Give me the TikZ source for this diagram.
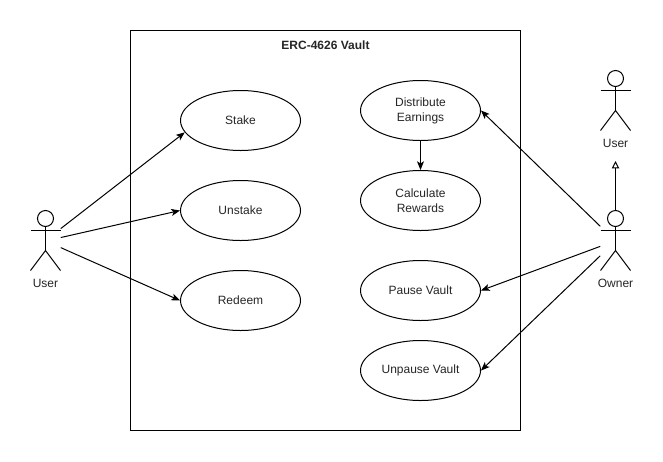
\documentclass[tikz,border=0pt]{standalone}
\usepackage{fontspec}
\setmainfont{Liberation Sans}
\usetikzlibrary{arrows.meta,shapes.geometric,calc}
\tikzset{
  usecase/.style={ellipse,draw=black,line width=0.75pt,fill=white,minimum width=90pt,minimum height=45pt,inner sep=0pt,font=\fontsize{9}{11.25}\selectfont,align=center,text=black!85},
  actorbox/.style={rectangle,inner sep=0pt,minimum width=22.5pt,minimum height=45pt},
  actorlabel/.style={inner sep=0pt,font=\fontsize{9}{11}\selectfont,text=black!85},
  actorline/.style={line width=0.75pt,draw=black},
  assoc/.style={line width=0.75pt,draw=black,-{Stealth[length=6.5pt,width=5.2pt,inset=1.6pt]}},
  inherit/.style={line width=0.75pt,draw=black,-{Triangle[open,length=5.5pt,width=5.5pt]}},
  flowbox/.style={rectangle,draw=black,line width=0.75pt,minimum width=292.5pt,minimum height=300pt,inner sep=0pt},
}
\newcommand{\stickman}[1]{%
  \draw[actorline] ($(#1.center)+(0,-22)$) circle (6pt);
  \draw[actorline] ($(#1.center)+(0,-14)$) -- ($(#1.center)+(0,10)$);
  \draw[actorline] ($(#1.center)+(-15,-10)$) -- ($(#1.center)+(15,-10)$);
  \draw[actorline] ($(#1.center)+(-15,30)$) -- ($(#1.center)+(0,10)$) -- ($(#1.center)+(15,30)$);
}
\begin{document}
\begin{tikzpicture}[x=0.75pt,y=-0.75pt]
\useasboundingbox[fill=white] (0,0) rectangle (663,461);
\node[flowbox] (vault) at (325.5,230.5) {};
\node[inner sep=0pt,font=\bfseries\fontsize{9}{11}\selectfont,text=black!85] (title) at (325.5,45) {ERC-4626 Vault};
\node[usecase] (stake) at (240.5,120.5) {Stake};
\node[usecase] (unstake) at (240.5,210.5) {Unstake};
\node[usecase] (redeem) at (240.5,300.5) {Redeem};
\node[usecase] (dist) at (420.5,110.5) {Distribute\\Earnings};
\node[usecase] (calc) at (420.5,200.5) {Calculate\\Rewards};
\node[usecase] (pause) at (420.5,290.5) {Pause Vault};
\node[usecase] (unpause) at (420.5,370.5) {Unpause Vault};
\node[actorbox] (useractor) at (45.5,240.5) {};
\node[actorbox] (parentactor) at (615.5,100.5) {};
\node[actorbox] (owneractor) at (615.5,240.5) {};
\stickman{useractor}
\stickman{parentactor}
\stickman{owneractor}
\node[actorlabel] (userlabel) at (45.5,283.5) {User};
\node[actorlabel] (parentlabel) at (615.5,143.5) {User};
\node[actorlabel] (ownerlabel) at (615.5,283.5) {Owner};
\draw[assoc] (useractor.38.7) -- (stake.192);
\draw[assoc] (useractor.11.3) -- (unstake.west);
\draw[assoc] (useractor.-25) -- (redeem.west);
\draw[assoc] (owneractor.137) -- (dist.east);
\draw[assoc] (owneractor.201.8) -- (pause.east);
\draw[assoc] (owneractor.225) -- (unpause.east);
\draw[assoc] (dist.south) -- (calc.north);
\draw[inherit] (owneractor.north) -- (parentlabel.south |- 0,161);
\end{tikzpicture}
\end{document}
